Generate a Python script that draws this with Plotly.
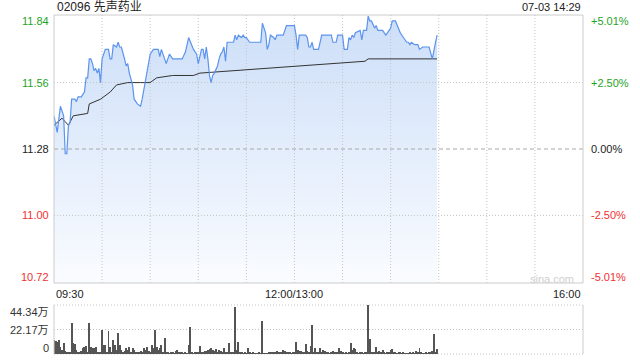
import plotly.graph_objects as go

# ---------------- data ----------------
title_text = "02096 先声药业"
stamp_text = "07-03 14:29"
prev_close = 11.28
y_min, y_max = 10.715, 11.845

price_left_labels = ["11.84", "11.56", "11.28", "11.00", "10.72"]
price_left_vals = [11.845, 11.56, 11.28, 11.00, 10.715]
pct_labels = ["+5.01%", "+2.50%", "0.00%", "-2.50%", "-5.01%"]
x_tick_labels = ["09:30", "12:00/13:00", "16:00"]
x_tick_pos = [0, 150, 330]
x_grid_pos = [30, 60, 90, 120, 150, 180, 210, 240, 270, 300]
vol_tick_labels = ["44.34万", "22.17万", "0"]
vol_tick_vals = [44.34, 22.17, 0]

# minute index (0 = 09:30, 150 = 12:00/13:00, 330 = 16:00)
price_min = [0, 2, 4, 6, 7, 8, 9, 10, 11, 13, 14, 15, 17, 19, 20, 21, 22, 23, 24, 25,
             26, 27, 28, 29, 30, 32, 34, 35, 36, 37, 39, 40, 41, 42, 44, 45, 46, 47, 49, 50,
             52, 54, 55, 57, 59, 60, 62, 65, 66, 67, 69, 70, 72, 74, 80, 82, 84, 85, 87, 89,
             90, 92, 93, 94, 95, 96, 97, 98, 99, 100, 102, 103, 104, 105, 106, 107, 108, 111, 112, 113,
             114, 115, 117, 118, 119, 120, 122, 123, 125, 129, 130, 132, 133, 134, 135, 137, 138, 139, 143, 144,
             145, 150, 151, 152, 153, 157, 158, 159, 160, 161, 162, 165, 166, 167, 173, 174, 176, 177, 180, 181,
             183, 184, 185, 186, 187, 188, 191, 192, 193, 195, 196, 197, 198, 200, 201, 202, 205, 207, 210, 211,
             213, 215, 216, 218, 220, 221, 222, 223, 225, 227, 228, 230, 234, 236, 237, 238, 239]
price_val = [11.42, 11.35, 11.46, 11.42, 11.26, 11.26, 11.38, 11.39, 11.49, 11.49, 11.48, 11.50, 11.50, 11.52, 11.58, 11.58, 11.66, 11.66, 11.64, 11.61,
             11.62, 11.60, 11.62, 11.56, 11.66, 11.70, 11.70, 11.66, 11.66, 11.72, 11.71, 11.73, 11.71, 11.71, 11.66, 11.63, 11.64, 11.60, 11.55, 11.49,
             11.47, 11.46, 11.49, 11.56, 11.63, 11.68, 11.70, 11.70, 11.67, 11.70, 11.66, 11.64, 11.68, 11.66, 11.66, 11.69, 11.75, 11.73, 11.70, 11.68,
             11.64, 11.70, 11.70, 11.66, 11.71, 11.66, 11.59, 11.56, 11.59, 11.60, 11.63, 11.66, 11.68, 11.69, 11.71, 11.65, 11.73, 11.73, 11.73, 11.76,
             11.74, 11.76, 11.75, 11.76, 11.75, 11.75, 11.73, 11.73, 11.73, 11.73, 11.81, 11.77, 11.70, 11.72, 11.76, 11.75, 11.74, 11.76, 11.76, 11.78,
             11.80, 11.80, 11.76, 11.70, 11.76, 11.76, 11.75, 11.71, 11.71, 11.73, 11.70, 11.70, 11.73, 11.76, 11.76, 11.73, 11.73, 11.76, 11.76, 11.70,
             11.70, 11.75, 11.74, 11.76, 11.75, 11.77, 11.78, 11.74, 11.78, 11.78, 11.84, 11.82, 11.82, 11.79, 11.80, 11.78, 11.78, 11.76, 11.79, 11.82,
             11.82, 11.79, 11.77, 11.75, 11.73, 11.73, 11.72, 11.73, 11.72, 11.72, 11.70, 11.71, 11.71, 11.66, 11.70, 11.73, 11.76]

avg_min = [0, 5, 9, 12, 21, 22, 29, 35, 39, 46, 54, 60, 64, 74, 83, 87, 91, 112, 130, 152, 172, 194, 196, 214, 239]
avg_val = [11.38, 11.41, 11.38, 11.42, 11.43, 11.47, 11.49, 11.52, 11.55, 11.56, 11.56, 11.56, 11.58, 11.59, 11.59, 11.59, 11.60,
           11.61, 11.62, 11.63, 11.64, 11.65, 11.66, 11.66, 11.66]

vol_wan = [12.7, 12.1, 11.2, 12.7, 6.6, 3.6, 10.3, 3.0, 2.1, 1.5, 2.0, 27.7, 9.7, 9.0, 3.6, 1.5, 2.1, 3.0, 5.1, 6.6,
           7.2, 2.0, 28.4, 6.6, 5.1, 5.1, 6.6, 1.5, 2.1, 1.5, 21.7, 8.1, 8.1, 1.5, 21.1, 6.6, 1.5, 12.7, 8.1, 3.6,
           18.7, 8.1, 3.6, 2.1, 3.0, 5.1, 3.6, 6.6, 2.1, 5.1, 3.6, 1.5, 1.2, 1.0, 3.0, 2.1, 5.1, 3.6, 6.6, 3.0,
           1.5, 8.1, 5.1, 21.7, 6.6, 3.6, 5.1, 8.1, 1.5, 14.2, 1.2, 2.1, 0.6, 1.2, 1.2, 0.8, 3.0, 3.6, 1.0, 2.1,
           1.2, 0.8, 2.1, 0.6, 8.1, 24.7, 1.2, 0.8, 1.0, 2.1, 1.0, 7.2, 1.0, 1.5, 3.0, 3.0, 3.6, 4.2, 5.1, 3.6,
           3.0, 4.2, 1.2, 3.6, 3.0, 2.1, 5.1, 1.0, 1.2, 10.3, 1.0, 1.2, 1.0, 42.8, 3.6, 11.2, 2.1, 1.2, 0.8, 1.2,
           0.8, 5.1, 1.2, 0.8, 1.2, 0.6, 0.6, 0.8, 1.2, 0.6, 30.1, 0.8, 0.6, 0.6, 1.0, 1.2, 1.5, 2.1, 1.2, 3.0,
           1.5, 2.1, 1.2, 3.6, 3.0, 2.1, 1.0, 1.2, 0.8, 2.1, 1.0, 11.2, 3.6, 3.0, 3.0, 1.0, 1.2, 9.0, 3.0, 1.5,
           7.2, 26.2, 1.5, 5.1, 1.0, 1.2, 5.1, 1.0, 3.6, 3.0, 1.0, 1.2, 0.8, 2.1, 3.0, 1.2, 2.1, 1.0, 5.1, 3.0,
           1.2, 0.8, 1.2, 0.8, 1.0, 10.3, 3.6, 5.1, 4.2, 1.2, 0.8, 1.2, 2.1, 0.8, 1.2, 1.0, 44.3, 13.3, 1.2, 2.1,
           1.0, 6.0, 1.2, 3.0, 1.0, 3.6, 1.2, 0.8, 1.0, 2.1, 3.6, 4.2, 1.0, 2.1, 0.8, 1.2, 1.2, 0.8, 2.1, 0.6,
           0.6, 0.8, 1.2, 0.6, 1.2, 0.8, 3.0, 1.0, 5.1, 2.1, 0.6, 0.8, 1.2, 0.8, 2.1, 1.0, 3.0, 18.1, 2.1, 4.2]
vol_min = list(range(len(vol_wan)))

# ---------------- styling ----------------
W, H = 640, 360
L, R = 54, 583
X0, X1 = L / W, R / W
MAIN = (1 - 283 / H, 1 - 15 / H)
VOL = (1 - 354 / H, 1 - 305 / H)
GREEN = "#1fa31f"
RED = "#f0302f"
DARK = "#222222"
FONT = "Arial, 'Liberation Sans', 'Noto Sans CJK SC', sans-serif"
label_colors = [GREEN, GREEN, DARK, RED, RED]


def py(px):
    return 1 - px / H


fig = go.Figure()

# area fill (no outline)
fig.add_trace(go.Scatter(
    x=price_min, y=price_val, mode="lines",
    line=dict(color="rgba(0,0,0,0)", width=0),
    fill="tozeroy",
    fillgradient=dict(type="vertical", start=y_min, stop=y_max,
                      colorscale=[[0, "rgba(250,252,255,1)"], [1, "rgba(204,222,248,1)"]]),
    xaxis="x", yaxis="y", hoverinfo="skip", showlegend=False))

# grid lines drawn over the fill
gx, gy = [], []
for v in x_grid_pos:
    gx += [v, v, None]
    gy += [y_min, y_max, None]
for v in [price_left_vals[1], price_left_vals[3]]:
    gx += [0, 330, None]
    gy += [v, v, None]
fig.add_trace(go.Scatter(x=gx, y=gy, mode="lines", line=dict(color="#c4c4c4", width=1, dash="1px,2px"),
                         xaxis="x", yaxis="y", hoverinfo="skip", showlegend=False))
fig.add_trace(go.Scatter(x=[0, 330], y=[prev_close, prev_close], mode="lines",
                         line=dict(color="#a8a8a8", width=1, dash="4px,3px"),
                         xaxis="x", yaxis="y", hoverinfo="skip", showlegend=False))

fig.add_trace(go.Scatter(
    x=avg_min, y=avg_val, mode="lines",
    line=dict(color="#333333", width=1),
    xaxis="x", yaxis="y", hoverinfo="skip", showlegend=False))

fig.add_trace(go.Scatter(
    x=price_min, y=price_val, mode="lines",
    line=dict(color="#5b93ee", width=1.2),
    xaxis="x", yaxis="y", hoverinfo="skip", showlegend=False))

fig.add_trace(go.Bar(
    x=vol_min, y=vol_wan, width=0.6,
    marker=dict(color="#555555", line=dict(width=0)),
    xaxis="x2", yaxis="y3", hoverinfo="skip", showlegend=False))

shapes = []
shapes.append(dict(type="rect", xref="paper", yref="paper", x0=X0, x1=X1, y0=MAIN[0], y1=MAIN[1],
                   line=dict(color="#cccccc", width=1)))
for ypx in [305, 329.5, 354]:
    shapes.append(dict(type="line", xref="paper", yref="paper", x0=X0, x1=X1, y0=py(ypx), y1=py(ypx),
                       line=dict(color="#c4c4c4", width=1, dash="1px,2px"), layer="below"))
for xx in [X0, X1]:
    shapes.append(dict(type="line", xref="paper", yref="paper", x0=xx, x1=xx, y0=VOL[0], y1=VOL[1],
                       line=dict(color="#cccccc", width=1)))

ann = []
ann.append(dict(text=title_text, x=(L + 1) / W, y=py(7), xref="paper", yref="paper",
                xanchor="left", yanchor="middle", showarrow=False, font=dict(size=12, color=DARK)))
ann.append(dict(text=stamp_text, x=R / W, y=py(7), xref="paper", yref="paper",
                xanchor="right", yanchor="middle", showarrow=False, font=dict(size=11, color=DARK)))
label_px = [21, None, None, None, 277]
for i, (lab, v, c, p) in enumerate(zip(price_left_labels, price_left_vals, label_colors, pct_labels)):
    if label_px[i] is not None:
        yy, yr = py(label_px[i]), "paper"
    else:
        yy, yr = v, "y"
    ann.append(dict(text=lab, x=(L - 3) / W, y=yy, xref="paper", yref=yr, xanchor="right",
                    yanchor="middle", showarrow=False, font=dict(size=11, color=c)))
    ann.append(dict(text=p, x=(R + 6) / W, y=yy, xref="paper", yref=yr, xanchor="left",
                    yanchor="middle", showarrow=False, font=dict(size=11, color=c)))
for lab, pos, xa in zip(x_tick_labels, x_tick_pos, ["left", "center", "right"]):
    ann.append(dict(text=lab, x=pos, y=py(294), xref="x", yref="paper", xanchor=xa,
                    yanchor="middle", showarrow=False, font=dict(size=11, color=DARK)))
for lab, ypx in zip(vol_tick_labels, [312, 330, 348]):
    ann.append(dict(text=lab, x=(L - 3) / W, y=py(ypx), xref="paper", yref="paper", xanchor="right",
                    yanchor="middle", showarrow=False, font=dict(size=11, color="#333333")))
ann.append(dict(text="sina.com", x=552 / W, y=py(279), xref="paper", yref="paper",
                xanchor="center", yanchor="middle", showarrow=False, font=dict(size=11, color="#cfcfcf")))

fig.update_layout(
    width=W, height=H, margin=dict(l=0, r=0, t=0, b=0),
    paper_bgcolor="white", plot_bgcolor="white",
    font=dict(family=FONT, size=11, color=DARK),
    bargap=0,
    xaxis=dict(domain=[X0, X1], range=[0, 330], anchor="y", showticklabels=False,
               showgrid=False, zeroline=False, showline=False, ticks=""),
    yaxis=dict(domain=list(MAIN), range=[y_min, y_max], showticklabels=False, showgrid=False,
               zeroline=False, showline=False),
    xaxis2=dict(domain=[X0, X1], range=[0, 330], anchor="y3", showticklabels=False,
                showgrid=False, zeroline=False, showline=False),
    yaxis3=dict(domain=list(VOL), range=[0, 44.34], showticklabels=False, showgrid=False,
                zeroline=False, showline=False),
    shapes=shapes, annotations=ann,
)

fig.write_html("out.html")
